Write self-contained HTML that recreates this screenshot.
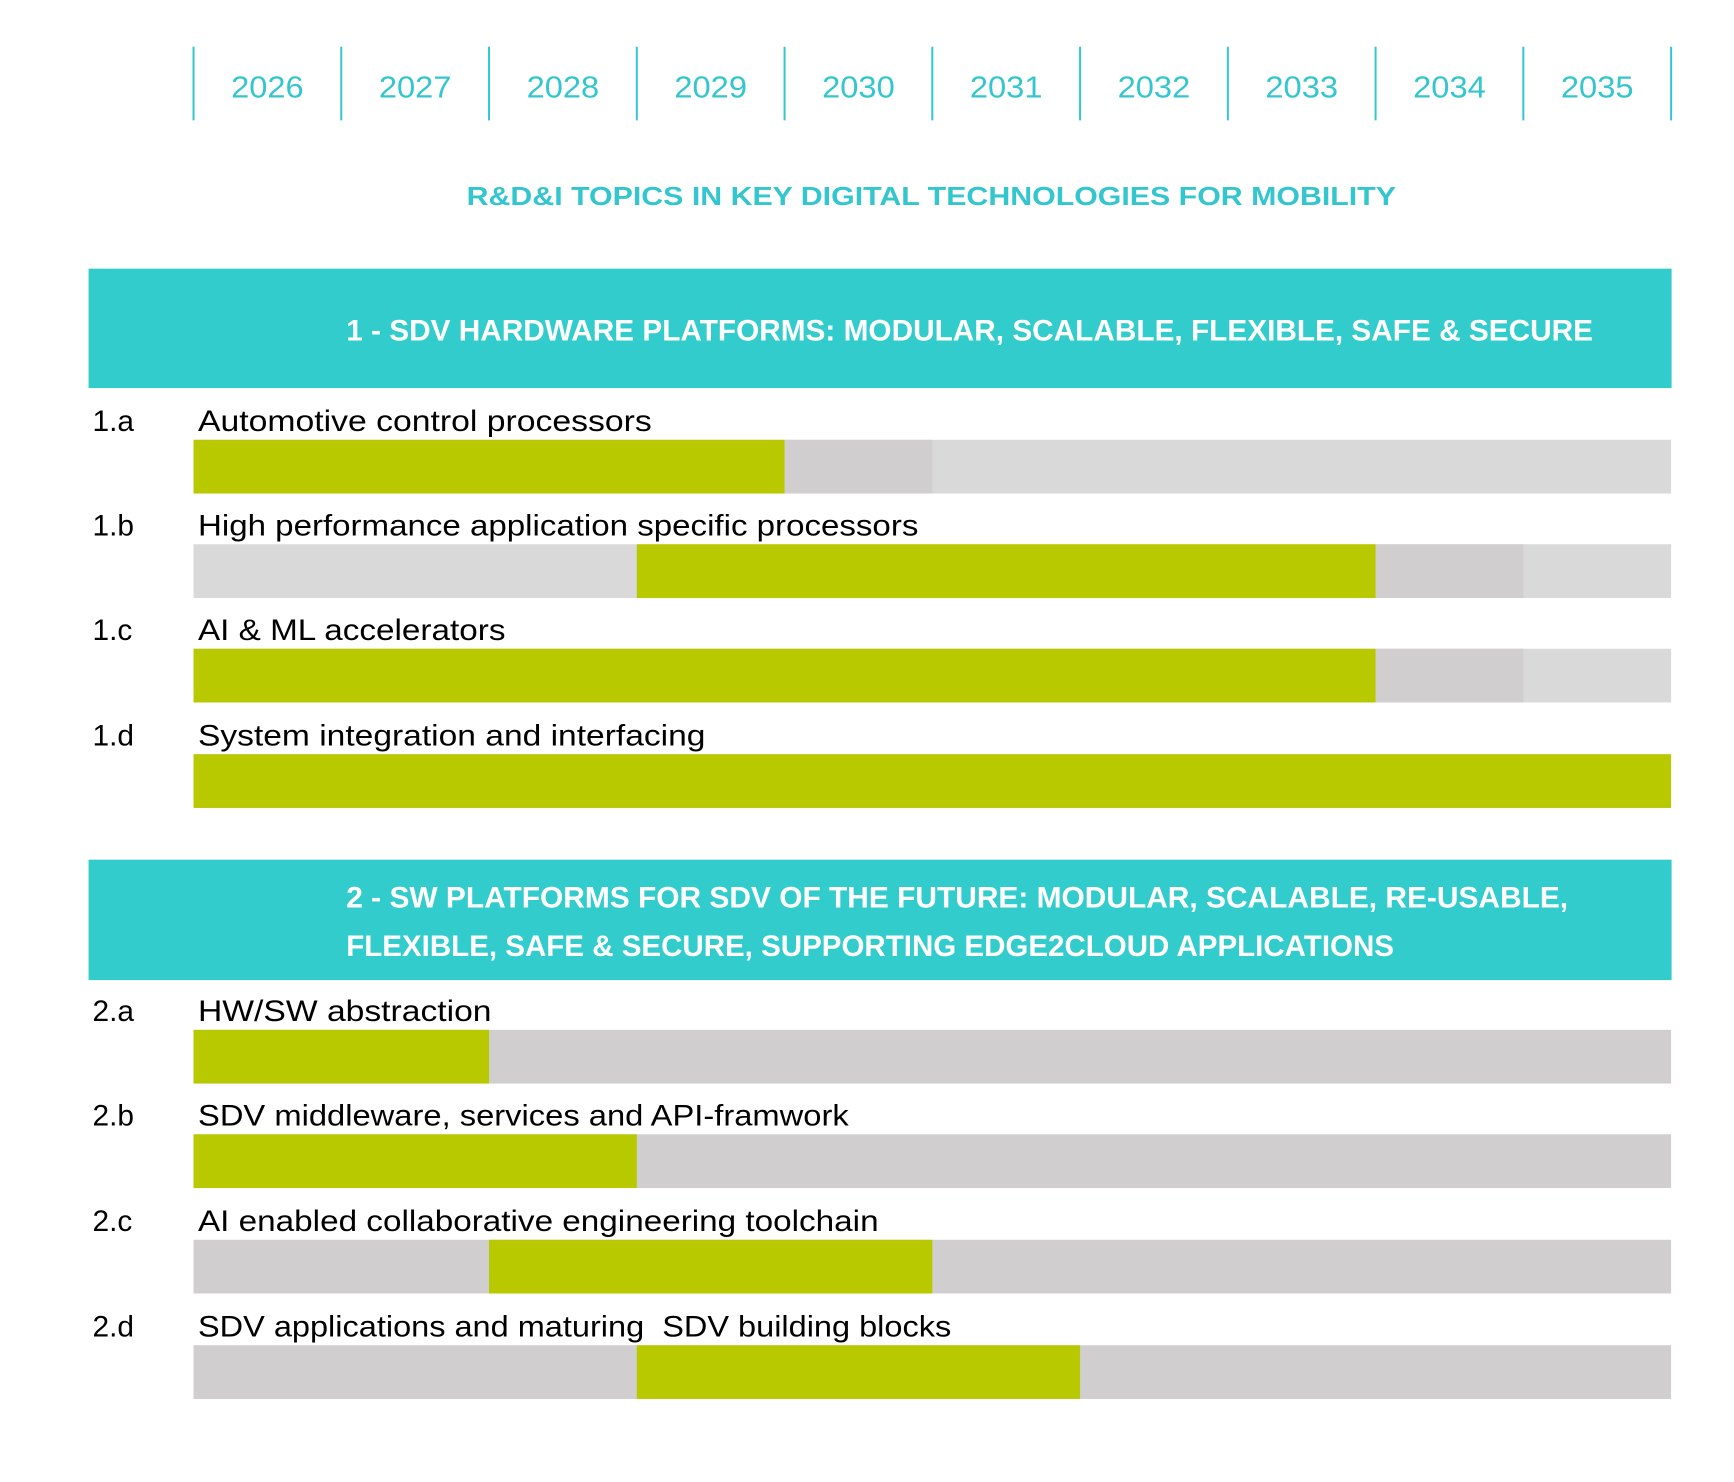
<!DOCTYPE html>
<html><head><meta charset="utf-8"><style>
html,body{margin:0;padding:0;background:#fff;}
svg{display:block;font-family:"Liberation Sans",sans-serif;}
</style></head><body>
<svg width="1734" height="1482" viewBox="0 0 1734 1482"><g id="chart" transform="scale(0.995)"></g></svg>
<script>
const years = ['2026','2027','2028','2029','2030','2031','2032','2033','2034','2035'];
const rowIds = ['1.a','1.b','1.c','1.d','2.a','2.b','2.c','2.d'];
const rowLabels = ['Automotive control processors','High performance application specific processors','AI & ML accelerators','System integration and interfacing','HW/SW abstraction','SDV middleware, services and API-framwork','AI enabled collaborative engineering toolchain','SDV applications and maturing \u00a0SDV building blocks'];
const greenStart = [0,3,0,0,0,0,2,3];
const greenEnd = [4,8,8,10,2,3,5,6];
const darkStart = [4,8,8,10,0,0,0,0];
const darkEnd = [5,9,9,10,0,0,0,0];
const section = [1,1,1,1,2,2,2,2];

const NS='http://www.w3.org/2000/svg';
const svg=document.getElementById('chart');
const X0=194.5, COL=148.5;
const x=i=>X0+i*COL;
function mk(tag,attrs,parent){const e=document.createElementNS(NS,tag);for(const k in attrs)e.setAttribute(k,attrs[k]);(parent||svg).appendChild(e);return e;}
function txt(s,attrs){const e=mk('text',attrs);e.textContent=s;return e;}

for(let i=0;i<=years.length;i++){
  const l=mk('line',{x1:x(i),x2:x(i),y1:47,y2:121,stroke:'#33c6cf','stroke-width':2});
  
  
}
years.forEach((y,i)=>{
  const t=txt(y,{x:x(i)+COL/2,y:98,'text-anchor':'middle','font-size':31,fill:'#33c6cf',textLength:73,lengthAdjust:'spacingAndGlyphs'});
  
  
});
const title=txt('R&D&I TOPICS IN KEY DIGITAL TECHNOLOGIES FOR MOBILITY',{x:469,y:206,'font-size':26,'font-weight':'bold',fill:'#33c6cf',textLength:934,lengthAdjust:'spacingAndGlyphs'});



const h1=mk('rect',{x:89,y:270,width:1591,height:120,fill:'#33cccc'});


const h1t=txt('1 - SDV HARDWARE PLATFORMS: MODULAR, SCALABLE, FLEXIBLE, SAFE & SECURE',{x:348,y:342,'font-size':30,'font-weight':'bold',fill:'#fff',textLength:1253,lengthAdjust:'spacingAndGlyphs'});


const h2=mk('rect',{x:89,y:864,width:1591,height:121,fill:'#33cccc'});


const h2a=txt('2 - SW PLATFORMS FOR SDV OF THE FUTURE: MODULAR, SCALABLE, RE-USABLE,',{x:348,y:912,'font-size':30,'font-weight':'bold',fill:'#fff',textLength:1228,lengthAdjust:'spacingAndGlyphs'});


const h2b=txt('FLEXIBLE, SAFE & SECURE, SUPPORTING EDGE2CLOUD APPLICATIONS',{x:348,y:961,'font-size':30,'font-weight':'bold',fill:'#fff',textLength:1053,lengthAdjust:'spacingAndGlyphs'});



const labelY=[422,527,632,738,1015,1120,1226,1332];
const labelW=[456,724,309,510,295,654,684,757];
rowIds.forEach((id,r)=>{
  const ly=labelY[r], by=ly+20;
  const a=txt(id,{x:93,y:ly+11,'font-size':30,fill:'#000'});
  
  
  const b=txt(rowLabels[r],{x:199,y:ly+11,'font-size':30,fill:'#000',textLength:labelW[r],lengthAdjust:'spacingAndGlyphs'});
  
  
  const bg=mk('rect',{x:x(0),y:by,width:x(10)-x(0),height:54,fill:section[r]===1?'#d9d9d9':'#d0cece'});
  
  
  if(darkEnd[r]>darkStart[r]){
    const d=mk('rect',{x:x(darkStart[r]),y:by,width:x(darkEnd[r])-x(darkStart[r]),height:54,fill:'#d0cece'});
    
    
  }
  const g=mk('rect',{x:x(greenStart[r]),y:by,width:x(greenEnd[r])-x(greenStart[r]),height:54,fill:'#b8c900'});
  
  
});
</script>
</body></html>
